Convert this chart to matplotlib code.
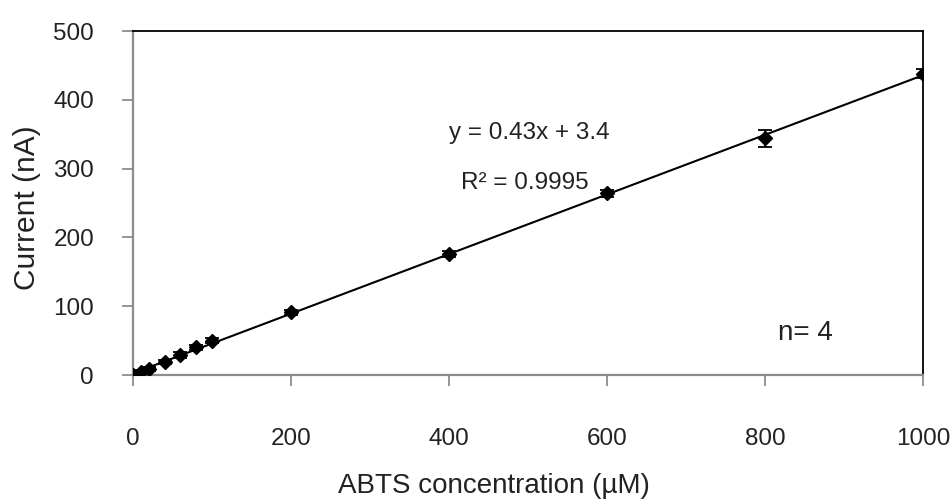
import numpy as np
import matplotlib
matplotlib.use("Agg")
import matplotlib.pyplot as plt

# ABTS calibration data
conc = [0, 10, 20, 40, 60, 80, 100, 200, 400, 600, 800, 1000]
current = [0, 4, 9, 19, 29, 40, 50, 91, 176, 264, 344, 438]
current_sd = [3, 3, 3, 3, 4, 4, 4, 4, 4, 5, 12, 7]

x_ticks = [0, 200, 400, 600, 800, 1000]
y_ticks = [0, 100, 200, 300, 400, 500]

plt.rcParams["font.family"] = ["Liberation Sans", "DejaVu Sans"]
plt.rcParams["font.size"] = 17.5
txt_color = "#222222"
grey = "#8c8c8c"

fig = plt.figure(figsize=(9.52, 5.0), dpi=100)
ax = fig.add_axes([0.1397, 0.25, 0.83, 0.688])

# error bars + markers
ax.errorbar(conc, current, yerr=current_sd, fmt="D", color="black",
            ms=7, ecolor="black", elinewidth=1.3, capsize=5, capthick=1.3,
            zorder=3)

# linear trendline
slope, intercept = np.polyfit(conc, current, 1)
x_line = np.array([min(conc), max(conc)])
ax.plot(x_line, slope * x_line + intercept, color="black", lw=1.5, zorder=2)

ax.set_xlim(0, 1000)
ax.set_ylim(0, 500)
ax.set_xticks(x_ticks)
ax.set_yticks(y_ticks)

for side in ["left", "bottom"]:
    ax.spines[side].set_color(grey)
    ax.spines[side].set_linewidth(1.6)
for side in ["top", "right"]:
    ax.spines[side].set_color("black")
    ax.spines[side].set_linewidth(1.3)

ax.tick_params(axis="x", direction="out", length=8, width=1.3, color=grey,
               pad=30, labelcolor=txt_color)
ax.tick_params(axis="y", direction="out", length=8, width=1.3, color=grey,
               pad=20, labelcolor=txt_color)

ax.set_xlabel("ABTS concentration (\u00b5M)", color=txt_color, fontsize=20,
              va="baseline")
ax.xaxis.set_label_coords(0.457, -0.343)
ax.set_ylabel("Current (nA)", color=txt_color, fontsize=21.5, va="center")
ax.yaxis.set_label_coords(-0.134, 0.485)

ax.text(502, 352, "y = 0.43x + 3.4", ha="center", va="center", color=txt_color)
ax.text(496, 279, "R\u00b2 = 0.9995", ha="center", va="center", color=txt_color)
ax.text(851, 61, "n= 4", ha="center", va="center", color=txt_color,
        fontsize=20)

fig.savefig("out.png", dpi=100)
